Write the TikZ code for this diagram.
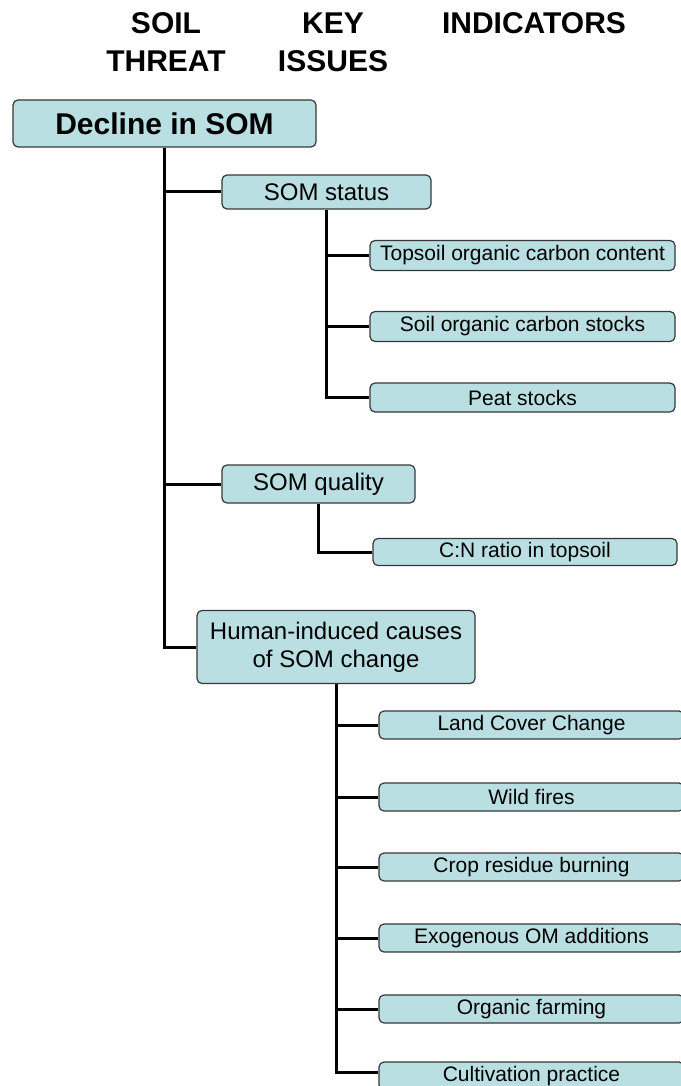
\documentclass[tikz,border=0pt]{standalone}
\usepackage{fontspec}
\setmainfont{Liberation Sans}
\usetikzlibrary{calc}
\definecolor{boxfill}{RGB}{185,223,227}
\definecolor{boxdraw}{RGB}{55,55,55}
\tikzset{
  box/.style={draw=boxdraw, line width=1.2pt, fill=boxfill, rounded corners=5pt, inner sep=0pt, align=center},
  leaf/.style={box, minimum width=305pt, minimum height=28pt, font=\fontsize{21}{25}\selectfont},
  issue/.style={box, font=\fontsize{24}{28}\selectfont},
  hdr/.style={font=\bfseries\fontsize{30}{38}\selectfont, align=center, inner sep=0pt},
  link/.style={line width=3pt, draw=black}
}
\begin{document}
\begin{tikzpicture}[x=1pt,y=-1pt]
\useasboundingbox (0,0) rectangle (680,1086);
% headers
\node[hdr] (h1) at (166,42) {SOIL\\THREAT};
\node[hdr] (h2) at (333,42) {KEY\\ISSUES};
\node[hdr] (h3) at (534,23) {INDICATORS};
% threat
\node[box, minimum width=303pt, minimum height=47pt, font=\bfseries\fontsize{30}{36}\selectfont] (decline) at (164.5,123.5) {Decline in SOM};
% key issues
\node[issue, minimum width=209pt, minimum height=34pt] (status) at (326.5,192) {SOM status};
\node[issue, minimum width=193pt, minimum height=38pt] (quality) at (318.5,484) {SOM quality};
\node[issue, minimum width=278pt, minimum height=73pt] (human) at (336,647) {Human-induced causes\\of SOM change};
% indicators
\node[leaf, minimum height=30pt] (topsoil) at (522.5,255.5) {Topsoil organic carbon content};
\node[leaf, minimum height=30pt] (stocks) at (522.5,326.5) {Soil organic carbon stocks};
\node[leaf, minimum height=29pt] (peat) at (522.5,397.5) {Peat stocks};
\node[leaf, minimum width=304pt, minimum height=27pt] (cn) at (525,552) {C:N ratio in topsoil};
\node[leaf] (lcc) at (531.5,725) {Land Cover Change};
\node[leaf] (fire) at (531.5,797) {Wild fires};
\node[leaf] (crop) at (531.5,867) {Crop residue burning};
\node[leaf] (exo) at (531.5,938) {Exogenous OM additions};
\node[leaf] (org) at (531.5,1009) {Organic farming};
\node[leaf] (cult) at (531.5,1076) {Cultivation practice};
% connectors
\draw[link] (decline.south) |- (human.west);
\draw[link] (decline.south |- status.west) -- (status.west);
\draw[link] (decline.south |- quality.west) -- (quality.west);
\draw[link] (status.south) |- (peat.west);
\draw[link] (status.south |- topsoil.west) -- (topsoil.west);
\draw[link] (status.south |- stocks.west) -- (stocks.west);
\draw[link] (quality.south) |- (cn.west);
\draw[link] (human.south) |- ($(cult.west)+(0,-4)$);
\foreach \n in {lcc,fire,crop,exo,org}{
  \draw[link] (human.south |- \n.west) -- (\n.west);
}
\end{tikzpicture}
\end{document}
